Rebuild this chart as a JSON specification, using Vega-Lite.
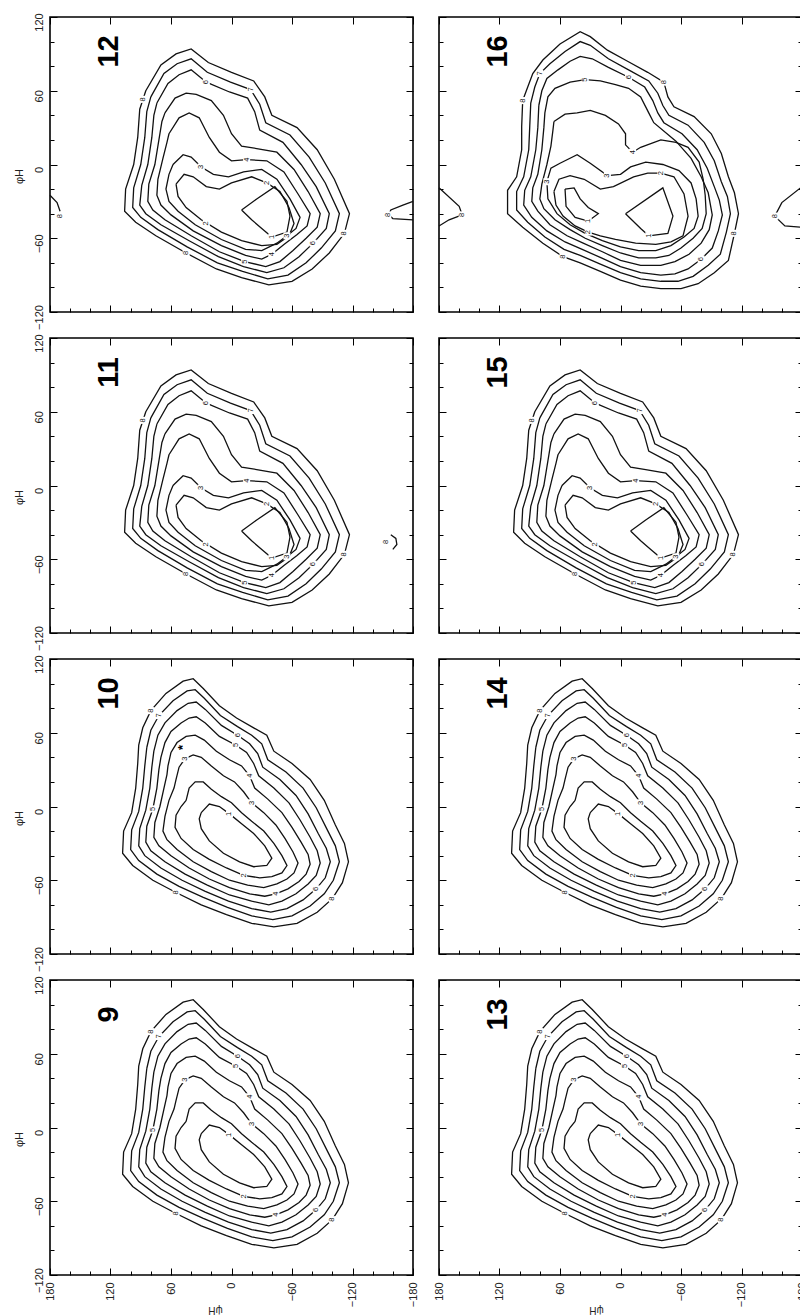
{
"$schema":"https://vega.github.io/schema/vega-lite/v6.json",
"padding":{"left":12,"top":12,"right":2,"bottom":0},
"config":{
 "view":{"stroke":"#000","strokeWidth":1.6},
 "axis":{"domain":false,"grid":false,"ticks":true,"tickColor":"#000","tickWidth":1,"tickSize":{"condition":{"test":"datum.value % 60 === 0","value":-7},"value":-4},"labelFont":"Liberation Sans","labelFontSize":11,"labelColor":"#222","labelAngle":-90,"labelFlush":false,"labelOverlap":false,"titleFont":"Liberation Sans","titleFontSize":11,"titleFontWeight":"normal","titleColor":"#222"},
 "axisBottom":{"labelAlign":"right","labelBaseline":"middle","labelPadding":14,"titleAngle":180,"titleBaseline":"bottom","titleFontSize":10,"titleY":29},
 "axisLeft":{"labelAlign":"center","labelBaseline":"bottom","labelPadding":13,"labelOffset":5,"titlePadding":6}
},
"datasets":{
"p12":[
{"c":8,"x":85,"y":60},{"c":8,"x":70,"y":81},{"c":8,"x":55,"y":90},{"c":8,"x":40,"y":94},{"c":8,"x":23,"y":83},{"c":8,"x":0,"y":75},{"c":8,"x":-22,"y":68},{"c":8,"x":-33,"y":55},{"c":8,"x":-40,"y":40},{"c":8,"x":-65,"y":30},{"c":8,"x":-85,"y":12},{"c":8,"x":-102,"y":-12},{"c":8,"x":-117,"y":-40},{"c":8,"x":-112,"y":-56},{"c":8,"x":-97,"y":-72},{"c":8,"x":-80,"y":-85},{"c":8,"x":-60,"y":-95},{"c":8,"x":-37,"y":-98},{"c":8,"x":-10,"y":-92},{"c":8,"x":15,"y":-85},{"c":8,"x":45,"y":-72},{"c":8,"x":75,"y":-58},{"c":8,"x":95,"y":-47},{"c":8,"x":106,"y":-38},{"c":8,"x":105,"y":-20},{"c":8,"x":97,"y":0},{"c":8,"x":93,"y":22},{"c":8,"x":91,"y":45},{"c":8,"x":85,"y":60},
{"c":7,"x":80,"y":55},{"c":7,"x":67,"y":74},{"c":7,"x":54,"y":82},{"c":7,"x":40,"y":86},{"c":7,"x":24,"y":75},{"c":7,"x":1,"y":67},{"c":7,"x":-19,"y":61},{"c":7,"x":-28,"y":49},{"c":7,"x":-34,"y":34},{"c":7,"x":-58,"y":24},{"c":7,"x":-77,"y":6},{"c":7,"x":-93,"y":-15},{"c":7,"x":-107,"y":-40},{"c":7,"x":-103,"y":-54},{"c":7,"x":-89,"y":-68},{"c":7,"x":-74,"y":-80},{"c":7,"x":-56,"y":-90},{"c":7,"x":-36,"y":-93},{"c":7,"x":-11,"y":-87},{"c":7,"x":14,"y":-80},{"c":7,"x":44,"y":-67},{"c":7,"x":73,"y":-53},{"c":7,"x":90,"y":-43},{"c":7,"x":98,"y":-35},{"c":7,"x":97,"y":-19},{"c":7,"x":90,"y":0},{"c":7,"x":86,"y":22},{"c":7,"x":84,"y":43},{"c":7,"x":80,"y":55},
{"c":6,"x":74,"y":50},{"c":6,"x":63,"y":66},{"c":6,"x":52,"y":73},{"c":6,"x":40,"y":77},{"c":6,"x":25,"y":67},{"c":6,"x":2,"y":59},{"c":6,"x":-16,"y":54},{"c":6,"x":-23,"y":43},{"c":6,"x":-28,"y":28},{"c":6,"x":-51,"y":18},{"c":6,"x":-69,"y":0},{"c":6,"x":-84,"y":-18},{"c":6,"x":-97,"y":-40},{"c":6,"x":-94,"y":-52},{"c":6,"x":-81,"y":-64},{"c":6,"x":-67,"y":-75},{"c":6,"x":-52,"y":-84},{"c":6,"x":-35,"y":-88},{"c":6,"x":-12,"y":-83},{"c":6,"x":13,"y":-75},{"c":6,"x":42,"y":-62},{"c":6,"x":70,"y":-49},{"c":6,"x":85,"y":-40},{"c":6,"x":91,"y":-33},{"c":6,"x":89,"y":-17},{"c":6,"x":83,"y":0},{"c":6,"x":79,"y":22},{"c":6,"x":77,"y":40},{"c":6,"x":74,"y":50},
{"c":5,"x":66,"y":42},{"c":5,"x":56,"y":54},{"c":5,"x":45,"y":58},{"c":5,"x":35,"y":57},{"c":5,"x":20,"y":52},{"c":5,"x":8,"y":40},{"c":5,"x":0,"y":25},{"c":5,"x":-10,"y":15},{"c":5,"x":-25,"y":13},{"c":5,"x":-45,"y":10},{"c":5,"x":-62,"y":-4},{"c":5,"x":-76,"y":-22},{"c":5,"x":-88,"y":-40},{"c":5,"x":-85,"y":-51},{"c":5,"x":-74,"y":-60},{"c":5,"x":-61,"y":-70},{"c":5,"x":-48,"y":-79},{"c":5,"x":-34,"y":-83},{"c":5,"x":-13,"y":-79},{"c":5,"x":12,"y":-71},{"c":5,"x":40,"y":-58},{"c":5,"x":66,"y":-45},{"c":5,"x":78,"y":-37},{"c":5,"x":83,"y":-30},{"c":5,"x":82,"y":-16},{"c":5,"x":76,"y":0},{"c":5,"x":72,"y":20},{"c":5,"x":69,"y":35},{"c":5,"x":66,"y":42},
{"c":4,"x":62,"y":25},{"c":4,"x":52,"y":38},{"c":4,"x":42,"y":42},{"c":4,"x":32,"y":38},{"c":4,"x":22,"y":22},{"c":4,"x":12,"y":10},{"c":4,"x":0,"y":3},{"c":4,"x":-15,"y":4},{"c":4,"x":-35,"y":3},{"c":4,"x":-52,"y":-6},{"c":4,"x":-66,"y":-24},{"c":4,"x":-78,"y":-40},{"c":4,"x":-75,"y":-50},{"c":4,"x":-65,"y":-57},{"c":4,"x":-52,"y":-65},{"c":4,"x":-40,"y":-73},{"c":4,"x":-30,"y":-77},{"c":4,"x":-14,"y":-74},{"c":4,"x":10,"y":-66},{"c":4,"x":38,"y":-54},{"c":4,"x":60,"y":-41},{"c":4,"x":70,"y":-33},{"c":4,"x":74,"y":-25},{"c":4,"x":73,"y":-12},{"c":4,"x":68,"y":5},{"c":4,"x":64,"y":18},{"c":4,"x":62,"y":25},
{"c":3,"x":58,"y":0},{"c":3,"x":48,"y":8},{"c":3,"x":40,"y":6},{"c":3,"x":30,"y":-2},{"c":3,"x":18,"y":-8},{"c":3,"x":3,"y":-10},{"c":3,"x":-12,"y":-6},{"c":3,"x":-30,"y":-4},{"c":3,"x":-45,"y":-12},{"c":3,"x":-58,"y":-28},{"c":3,"x":-68,"y":-43},{"c":3,"x":-64,"y":-52},{"c":3,"x":-55,"y":-58},{"c":3,"x":-45,"y":-64},{"c":3,"x":-30,"y":-70},{"c":3,"x":-14,"y":-69},{"c":3,"x":10,"y":-61},{"c":3,"x":36,"y":-49},{"c":3,"x":53,"y":-38},{"c":3,"x":62,"y":-30},{"c":3,"x":65,"y":-20},{"c":3,"x":62,"y":-8},{"c":3,"x":58,"y":0},
{"c":2,"x":55,"y":-16},{"c":2,"x":47,"y":-8},{"c":2,"x":38,"y":-10},{"c":2,"x":25,"y":-18},{"c":2,"x":12,"y":-20},{"c":2,"x":0,"y":-15},{"c":2,"x":-20,"y":-10},{"c":2,"x":-35,"y":-15},{"c":2,"x":-48,"y":-22},{"c":2,"x":-57,"y":-35},{"c":2,"x":-62,"y":-48},{"c":2,"x":-57,"y":-58},{"c":2,"x":-45,"y":-65},{"c":2,"x":-30,"y":-66},{"c":2,"x":-10,"y":-62},{"c":2,"x":10,"y":-55},{"c":2,"x":30,"y":-45},{"c":2,"x":45,"y":-35},{"c":2,"x":53,"y":-26},{"c":2,"x":55,"y":-16},
{"c":1,"x":-10,"y":-37},{"c":1,"x":-25,"y":-28},{"c":1,"x":-43,"y":-18},{"c":1,"x":-55,"y":-30},{"c":1,"x":-58,"y":-42},{"c":1,"x":-55,"y":-55},{"c":1,"x":-40,"y":-59},{"c":1,"x":-30,"y":-52},{"c":1,"x":-20,"y":-45},{"c":1,"x":-10,"y":-37},
{"c":"8a","x":180,"y":-25},{"c":"8a","x":173,"y":-31},{"c":"8a","x":170,"y":-38},
{"c":"8b","x":-180,"y":-30},{"c":"8b","x":-170,"y":-33},{"c":"8b","x":-158,"y":-37},{"c":"8b","x":-156,"y":-41},{"c":"8b","x":-160,"y":-44},{"c":"8b","x":-180,"y":-45}
],
"l12":[
{"t":"8","x":88,"y":53},{"t":"8","x":-112,"y":-56},{"t":"8","x":45,"y":-72},{"t":"7","x":-19,"y":61},{"t":"6","x":25,"y":67},{"t":"6","x":-81,"y":-64},{"t":"5","x":-13,"y":-79},{"t":"4","x":-15,"y":4},{"t":"4","x":-40,"y":-73},{"t":"3","x":30,"y":-2},{"t":"3","x":-55,"y":-58},{"t":"2","x":-35,"y":-15},{"t":"2","x":25,"y":-48},{"t":"1","x":-40,"y":-59},{"t":"8","x":170,"y":-42},{"t":"8","x":-155,"y":-41}
],
"f11":[
{"c":"8c","x":-158,"y":-40},{"c":"8c","x":-163,"y":-43},{"c":"8c","x":-164,"y":-48},{"c":"8c","x":-160,"y":-52}
],
"l11":[
{"t":"8","x":88,"y":53},{"t":"8","x":-112,"y":-56},{"t":"8","x":45,"y":-72},{"t":"7","x":-19,"y":61},{"t":"6","x":25,"y":67},{"t":"6","x":-81,"y":-64},{"t":"5","x":-13,"y":-79},{"t":"4","x":-15,"y":4},{"t":"4","x":-40,"y":-73},{"t":"3","x":30,"y":-2},{"t":"3","x":-55,"y":-58},{"t":"2","x":-35,"y":-15},{"t":"2","x":25,"y":-48},{"t":"1","x":-40,"y":-59},{"t":"8","x":-153,"y":-46}
],
"p16":[
{"c":8,"x":97,"y":52},{"c":8,"x":92,"y":63},{"c":8,"x":87,"y":74},{"c":8,"x":77,"y":85},{"c":8,"x":60,"y":98},{"c":8,"x":40,"y":108},{"c":8,"x":30,"y":104},{"c":8,"x":13,"y":93},{"c":8,"x":-7,"y":84},{"c":8,"x":-27,"y":75},{"c":8,"x":-43,"y":67},{"c":8,"x":-47,"y":55},{"c":8,"x":-53,"y":47},{"c":8,"x":-73,"y":39},{"c":8,"x":-90,"y":25},{"c":8,"x":-100,"y":9},{"c":8,"x":-107,"y":-10},{"c":8,"x":-113,"y":-23},{"c":8,"x":-117,"y":-40},{"c":8,"x":-113,"y":-56},{"c":8,"x":-107,"y":-78},{"c":8,"x":-93,"y":-88},{"c":8,"x":-77,"y":-97},{"c":8,"x":-60,"y":-101},{"c":8,"x":-40,"y":-101},{"c":8,"x":-20,"y":-99},{"c":8,"x":0,"y":-94},{"c":8,"x":20,"y":-87},{"c":8,"x":40,"y":-80},{"c":8,"x":57,"y":-75},{"c":8,"x":77,"y":-64},{"c":8,"x":97,"y":-51},{"c":8,"x":112,"y":-40},{"c":8,"x":112,"y":-21},{"c":8,"x":103,"y":-10},{"c":8,"x":98,"y":12},{"c":8,"x":98,"y":31},{"c":8,"x":97,"y":52},
{"c":7,"x":89,"y":50},{"c":7,"x":85,"y":63},{"c":7,"x":80,"y":74},{"c":7,"x":70,"y":82},{"c":7,"x":55,"y":92},{"c":7,"x":40,"y":100},{"c":7,"x":30,"y":97},{"c":7,"x":12,"y":86},{"c":7,"x":-8,"y":77},{"c":7,"x":-28,"y":68},{"c":7,"x":-37,"y":58},{"c":7,"x":-42,"y":48},{"c":7,"x":-48,"y":40},{"c":7,"x":-67,"y":32},{"c":7,"x":-83,"y":18},{"c":7,"x":-93,"y":3},{"c":7,"x":-100,"y":-14},{"c":7,"x":-106,"y":-26},{"c":7,"x":-109,"y":-40},{"c":7,"x":-105,"y":-55},{"c":7,"x":-99,"y":-73},{"c":7,"x":-87,"y":-82},{"c":7,"x":-72,"y":-91},{"c":7,"x":-57,"y":-95},{"c":7,"x":-40,"y":-95},{"c":7,"x":-20,"y":-93},{"c":7,"x":0,"y":-88},{"c":7,"x":20,"y":-81},{"c":7,"x":40,"y":-74},{"c":7,"x":56,"y":-69},{"c":7,"x":75,"y":-59},{"c":7,"x":92,"y":-47},{"c":7,"x":103,"y":-37},{"c":7,"x":103,"y":-22},{"c":7,"x":96,"y":-10},{"c":7,"x":91,"y":12},{"c":7,"x":90,"y":31},{"c":7,"x":89,"y":50},
{"c":6,"x":81,"y":48},{"c":6,"x":78,"y":60},{"c":6,"x":73,"y":70},{"c":6,"x":62,"y":77},{"c":6,"x":50,"y":84},{"c":6,"x":40,"y":88},{"c":6,"x":28,"y":86},{"c":6,"x":12,"y":79},{"c":6,"x":-8,"y":71},{"c":6,"x":-24,"y":63},{"c":6,"x":-32,"y":52},{"c":6,"x":-37,"y":42},{"c":6,"x":-43,"y":34},{"c":6,"x":-61,"y":25},{"c":6,"x":-76,"y":12},{"c":6,"x":-86,"y":-3},{"c":6,"x":-93,"y":-18},{"c":6,"x":-98,"y":-29},{"c":6,"x":-101,"y":-41},{"c":6,"x":-97,"y":-54},{"c":6,"x":-91,"y":-68},{"c":6,"x":-80,"y":-77},{"c":6,"x":-67,"y":-85},{"c":6,"x":-54,"y":-89},{"c":6,"x":-40,"y":-90},{"c":6,"x":-20,"y":-88},{"c":6,"x":0,"y":-83},{"c":6,"x":19,"y":-76},{"c":6,"x":38,"y":-69},{"c":6,"x":55,"y":-63},{"c":6,"x":73,"y":-54},{"c":6,"x":88,"y":-43},{"c":6,"x":96,"y":-33},{"c":6,"x":95,"y":-21},{"c":6,"x":89,"y":-10},{"c":6,"x":84,"y":12},{"c":6,"x":82,"y":30},{"c":6,"x":81,"y":48},
{"c":5,"x":75,"y":42},{"c":5,"x":72,"y":55},{"c":5,"x":65,"y":62},{"c":5,"x":50,"y":67},{"c":5,"x":35,"y":69},{"c":5,"x":20,"y":68},{"c":5,"x":5,"y":65},{"c":5,"x":-8,"y":62},{"c":5,"x":-20,"y":55},{"c":5,"x":-28,"y":42},{"c":5,"x":-33,"y":34},{"c":5,"x":-55,"y":19},{"c":5,"x":-70,"y":5},{"c":5,"x":-80,"y":-10},{"c":5,"x":-87,"y":-23},{"c":5,"x":-91,"y":-41},{"c":5,"x":-88,"y":-53},{"c":5,"x":-80,"y":-64},{"c":5,"x":-68,"y":-73},{"c":5,"x":-54,"y":-79},{"c":5,"x":-40,"y":-82},{"c":5,"x":-20,"y":-82},{"c":5,"x":0,"y":-78},{"c":5,"x":18,"y":-71},{"c":5,"x":37,"y":-64},{"c":5,"x":53,"y":-58},{"c":5,"x":70,"y":-49},{"c":5,"x":82,"y":-38},{"c":5,"x":88,"y":-30},{"c":5,"x":87,"y":-19},{"c":5,"x":82,"y":-8},{"c":5,"x":78,"y":12},{"c":5,"x":76,"y":30},{"c":5,"x":75,"y":42},
{"c":4,"x":66,"y":35},{"c":4,"x":55,"y":41},{"c":4,"x":43,"y":42},{"c":4,"x":30,"y":44},{"c":4,"x":15,"y":40},{"c":4,"x":2,"y":33},{"c":4,"x":-5,"y":25},{"c":4,"x":-5,"y":16},{"c":4,"x":-12,"y":10},{"c":4,"x":-20,"y":14},{"c":4,"x":-40,"y":20},{"c":4,"x":-55,"y":18},{"c":4,"x":-67,"y":14},{"c":4,"x":-78,"y":2},{"c":4,"x":-82,"y":-12},{"c":4,"x":-84,"y":-25},{"c":4,"x":-85,"y":-40},{"c":4,"x":-81,"y":-52},{"c":4,"x":-72,"y":-60},{"c":4,"x":-60,"y":-68},{"c":4,"x":-48,"y":-74},{"c":4,"x":-35,"y":-76},{"c":4,"x":-18,"y":-76},{"c":4,"x":0,"y":-72},{"c":4,"x":18,"y":-66},{"c":4,"x":35,"y":-60},{"c":4,"x":50,"y":-53},{"c":4,"x":65,"y":-45},{"c":4,"x":76,"y":-36},{"c":4,"x":80,"y":-28},{"c":4,"x":78,"y":-16},{"c":4,"x":73,"y":0},{"c":4,"x":69,"y":15},{"c":4,"x":67,"y":28},{"c":4,"x":66,"y":35},
{"c":3,"x":73,"y":-14},{"c":3,"x":69,"y":-3},{"c":3,"x":60,"y":1},{"c":3,"x":43,"y":8},{"c":3,"x":30,"y":1},{"c":3,"x":13,"y":-9},{"c":3,"x":0,"y":-8},{"c":3,"x":-10,"y":-2},{"c":3,"x":-25,"y":2},{"c":3,"x":-42,"y":0},{"c":3,"x":-58,"y":-5},{"c":3,"x":-70,"y":-15},{"c":3,"x":-75,"y":-28},{"c":3,"x":-77,"y":-42},{"c":3,"x":-73,"y":-52},{"c":3,"x":-63,"y":-59},{"c":3,"x":-50,"y":-66},{"c":3,"x":-35,"y":-70},{"c":3,"x":-18,"y":-70},{"c":3,"x":0,"y":-67},{"c":3,"x":18,"y":-62},{"c":3,"x":35,"y":-56},{"c":3,"x":50,"y":-49},{"c":3,"x":63,"y":-40},{"c":3,"x":72,"y":-28},{"c":3,"x":73,"y":-14},
{"c":2,"x":66,"y":-22},{"c":2,"x":61,"y":-12},{"c":2,"x":50,"y":-9},{"c":2,"x":36,"y":-12},{"c":2,"x":20,"y":-20},{"c":2,"x":7,"y":-18},{"c":2,"x":-13,"y":-10},{"c":2,"x":-27,"y":-7},{"c":2,"x":-40,"y":-7},{"c":2,"x":-53,"y":-10},{"c":2,"x":-63,"y":-24},{"c":2,"x":-67,"y":-42},{"c":2,"x":-62,"y":-58},{"c":2,"x":-50,"y":-63},{"c":2,"x":-35,"y":-65},{"c":2,"x":-15,"y":-64},{"c":2,"x":5,"y":-61},{"c":2,"x":20,"y":-58},{"c":2,"x":32,"y":-55},{"c":2,"x":45,"y":-50},{"c":2,"x":57,"y":-42},{"c":2,"x":64,"y":-33},{"c":2,"x":66,"y":-22},
{"c":"1a","x":-5,"y":-40},{"c":"1a","x":-42,"y":-19},{"c":"1a","x":-52,"y":-42},{"c":"1a","x":-47,"y":-56},{"c":"1a","x":-28,"y":-58},{"c":"1a","x":-20,"y":-52},{"c":"1a","x":-5,"y":-40},
{"c":"1b","x":55,"y":-20},{"c":"1b","x":46,"y":-19},{"c":"1b","x":40,"y":-28},{"c":"1b","x":32,"y":-35},{"c":"1b","x":22,"y":-40},{"c":"1b","x":32,"y":-46},{"c":"1b","x":45,"y":-43},{"c":"1b","x":54,"y":-34},{"c":"1b","x":55,"y":-20},
{"c":"8a","x":180,"y":-19},{"c":"8a","x":160,"y":-34},{"c":"8a","x":157,"y":-41},{"c":"8a","x":170,"y":-45},{"c":"8a","x":180,"y":-50},
{"c":"8b","x":-180,"y":-18},{"c":"8b","x":-160,"y":-31},{"c":"8b","x":-153,"y":-42},{"c":"8b","x":-163,"y":-50},{"c":"8b","x":-180,"y":-51}
],
"l16":[
{"t":"8","x":97,"y":52},{"t":"8","x":-43,"y":67},{"t":"8","x":-113,"y":-56},{"t":"8","x":57,"y":-75},{"t":"7","x":80,"y":74},{"t":"6","x":-8,"y":71},{"t":"5","x":35,"y":69},{"t":"4","x":-12,"y":10},{"t":"3","x":13,"y":-9},{"t":"3","x":73,"y":-14},{"t":"2","x":-40,"y":-7},{"t":"2","x":32,"y":-55},{"t":"1","x":-28,"y":-58},{"t":"1","x":32,"y":-46},{"t":"6","x":-80,"y":-77},{"t":"8","x":157,"y":-41},{"t":"8","x":-153,"y":-42}
],
"pS":[
{"c":8,"x":92,"y":50},{"c":8,"x":88,"y":64},{"c":8,"x":80,"y":78},{"c":8,"x":65,"y":92},{"c":8,"x":48,"y":102},{"c":8,"x":38,"y":104},{"c":8,"x":28,"y":96},{"c":8,"x":12,"y":82},{"c":8,"x":-5,"y":72},{"c":8,"x":-22,"y":64},{"c":8,"x":-35,"y":58},{"c":8,"x":-42,"y":45},{"c":8,"x":-60,"y":35},{"c":8,"x":-78,"y":22},{"c":8,"x":-92,"y":5},{"c":8,"x":-103,"y":-15},{"c":8,"x":-112,"y":-30},{"c":8,"x":-116,"y":-45},{"c":8,"x":-110,"y":-62},{"c":8,"x":-100,"y":-75},{"c":8,"x":-85,"y":-86},{"c":8,"x":-65,"y":-95},{"c":8,"x":-42,"y":-98},{"c":8,"x":-20,"y":-95},{"c":8,"x":5,"y":-88},{"c":8,"x":30,"y":-80},{"c":8,"x":55,"y":-70},{"c":8,"x":78,"y":-60},{"c":8,"x":98,"y":-48},{"c":8,"x":108,"y":-38},{"c":8,"x":107,"y":-20},{"c":8,"x":99,"y":-5},{"c":8,"x":95,"y":15},{"c":8,"x":93,"y":35},{"c":8,"x":92,"y":50},
{"c":7,"x":84,"y":48},{"c":7,"x":80,"y":62},{"c":7,"x":72,"y":74},{"c":7,"x":58,"y":86},{"c":7,"x":44,"y":94},{"c":7,"x":36,"y":95},{"c":7,"x":27,"y":88},{"c":7,"x":11,"y":74},{"c":7,"x":-6,"y":65},{"c":7,"x":-20,"y":58},{"c":7,"x":-30,"y":51},{"c":7,"x":-36,"y":38},{"c":7,"x":-54,"y":28},{"c":7,"x":-71,"y":15},{"c":7,"x":-84,"y":-1},{"c":7,"x":-95,"y":-19},{"c":7,"x":-103,"y":-32},{"c":7,"x":-107,"y":-45},{"c":7,"x":-101,"y":-60},{"c":7,"x":-92,"y":-71},{"c":7,"x":-78,"y":-81},{"c":7,"x":-60,"y":-89},{"c":7,"x":-41,"y":-92},{"c":7,"x":-20,"y":-89},{"c":7,"x":4,"y":-82},{"c":7,"x":28,"y":-74},{"c":7,"x":52,"y":-65},{"c":7,"x":74,"y":-55},{"c":7,"x":92,"y":-44},{"c":7,"x":100,"y":-35},{"c":7,"x":99,"y":-19},{"c":7,"x":92,"y":-4},{"c":7,"x":88,"y":15},{"c":7,"x":86,"y":33},{"c":7,"x":84,"y":48},
{"c":6,"x":77,"y":45},{"c":6,"x":73,"y":58},{"c":6,"x":66,"y":68},{"c":6,"x":54,"y":78},{"c":6,"x":43,"y":84},{"c":6,"x":35,"y":85},{"c":6,"x":26,"y":79},{"c":6,"x":10,"y":66},{"c":6,"x":-6,"y":58},{"c":6,"x":-18,"y":51},{"c":6,"x":-26,"y":43},{"c":6,"x":-31,"y":32},{"c":6,"x":-48,"y":22},{"c":6,"x":-64,"y":9},{"c":6,"x":-76,"y":-6},{"c":6,"x":-86,"y":-22},{"c":6,"x":-94,"y":-34},{"c":6,"x":-98,"y":-45},{"c":6,"x":-93,"y":-58},{"c":6,"x":-84,"y":-67},{"c":6,"x":-71,"y":-76},{"c":6,"x":-55,"y":-83},{"c":6,"x":-39,"y":-86},{"c":6,"x":-20,"y":-83},{"c":6,"x":3,"y":-77},{"c":6,"x":26,"y":-69},{"c":6,"x":49,"y":-60},{"c":6,"x":70,"y":-50},{"c":6,"x":86,"y":-40},{"c":6,"x":92,"y":-32},{"c":6,"x":91,"y":-18},{"c":6,"x":85,"y":-3},{"c":6,"x":81,"y":15},{"c":6,"x":79,"y":32},{"c":6,"x":77,"y":45},
{"c":5,"x":70,"y":40},{"c":5,"x":66,"y":52},{"c":5,"x":60,"y":61},{"c":5,"x":50,"y":68},{"c":5,"x":42,"y":72},{"c":5,"x":35,"y":73},{"c":5,"x":26,"y":68},{"c":5,"x":12,"y":57},{"c":5,"x":-4,"y":50},{"c":5,"x":-15,"y":44},{"c":5,"x":-22,"y":35},{"c":5,"x":-27,"y":25},{"c":5,"x":-42,"y":15},{"c":5,"x":-57,"y":3},{"c":5,"x":-68,"y":-11},{"c":5,"x":-78,"y":-25},{"c":5,"x":-85,"y":-36},{"c":5,"x":-88,"y":-46},{"c":5,"x":-84,"y":-56},{"c":5,"x":-76,"y":-63},{"c":5,"x":-64,"y":-71},{"c":5,"x":-50,"y":-77},{"c":5,"x":-37,"y":-80},{"c":5,"x":-20,"y":-77},{"c":5,"x":2,"y":-72},{"c":5,"x":24,"y":-64},{"c":5,"x":46,"y":-55},{"c":5,"x":66,"y":-45},{"c":5,"x":80,"y":-36},{"c":5,"x":85,"y":-29},{"c":5,"x":84,"y":-16},{"c":5,"x":78,"y":-2},{"c":5,"x":74,"y":15},{"c":5,"x":72,"y":30},{"c":5,"x":70,"y":40},
{"c":4,"x":63,"y":33},{"c":4,"x":60,"y":44},{"c":4,"x":54,"y":52},{"c":4,"x":45,"y":57},{"c":4,"x":36,"y":58},{"c":4,"x":27,"y":54},{"c":4,"x":15,"y":45},{"c":4,"x":2,"y":38},{"c":4,"x":-10,"y":33},{"c":4,"x":-18,"y":25},{"c":4,"x":-23,"y":15},{"c":4,"x":-36,"y":6},{"c":4,"x":-50,"y":-5},{"c":4,"x":-60,"y":-17},{"c":4,"x":-69,"y":-29},{"c":4,"x":-76,"y":-39},{"c":4,"x":-78,"y":-47},{"c":4,"x":-74,"y":-55},{"c":4,"x":-67,"y":-61},{"c":4,"x":-56,"y":-67},{"c":4,"x":-44,"y":-71},{"c":4,"x":-33,"y":-73},{"c":4,"x":-18,"y":-71},{"c":4,"x":2,"y":-66},{"c":4,"x":22,"y":-59},{"c":4,"x":42,"y":-50},{"c":4,"x":60,"y":-40},{"c":4,"x":72,"y":-32},{"c":4,"x":77,"y":-25},{"c":4,"x":76,"y":-13},{"c":4,"x":71,"y":0},{"c":4,"x":67,"y":15},{"c":4,"x":64,"y":26},{"c":4,"x":63,"y":33},
{"c":3,"x":55,"y":22},{"c":3,"x":52,"y":32},{"c":3,"x":46,"y":39},{"c":3,"x":38,"y":42},{"c":3,"x":30,"y":40},{"c":3,"x":20,"y":33},{"c":3,"x":8,"y":25},{"c":3,"x":-3,"y":20},{"c":3,"x":-12,"y":12},{"c":3,"x":-20,"y":3},{"c":3,"x":-32,"y":-5},{"c":3,"x":-44,"y":-15},{"c":3,"x":-53,"y":-26},{"c":3,"x":-61,"y":-37},{"c":3,"x":-66,"y":-46},{"c":3,"x":-62,"y":-54},{"c":3,"x":-55,"y":-59},{"c":3,"x":-45,"y":-63},{"c":3,"x":-32,"y":-66},{"c":3,"x":-16,"y":-64},{"c":3,"x":2,"y":-60},{"c":3,"x":20,"y":-53},{"c":3,"x":38,"y":-45},{"c":3,"x":54,"y":-35},{"c":3,"x":64,"y":-27},{"c":3,"x":68,"y":-20},{"c":3,"x":66,"y":-8},{"c":3,"x":62,"y":5},{"c":3,"x":57,"y":15},{"c":3,"x":55,"y":22},
{"c":2,"x":45,"y":5},{"c":2,"x":42,"y":15},{"c":2,"x":36,"y":20},{"c":2,"x":28,"y":20},{"c":2,"x":20,"y":14},{"c":2,"x":10,"y":8},{"c":2,"x":0,"y":3},{"c":2,"x":-10,"y":-5},{"c":2,"x":-20,"y":-12},{"c":2,"x":-32,"y":-20},{"c":2,"x":-42,"y":-30},{"c":2,"x":-50,"y":-40},{"c":2,"x":-55,"y":-48},{"c":2,"x":-50,"y":-54},{"c":2,"x":-40,"y":-57},{"c":2,"x":-28,"y":-58},{"c":2,"x":-12,"y":-56},{"c":2,"x":5,"y":-50},{"c":2,"x":22,"y":-43},{"c":2,"x":38,"y":-35},{"c":2,"x":50,"y":-26},{"c":2,"x":56,"y":-17},{"c":2,"x":55,"y":-7},{"c":2,"x":50,"y":0},{"c":2,"x":45,"y":5},
{"c":1,"x":30,"y":-5},{"c":1,"x":22,"y":2},{"c":1,"x":12,"y":0},{"c":1,"x":2,"y":-6},{"c":1,"x":-10,"y":-14},{"c":1,"x":-22,"y":-22},{"c":1,"x":-33,"y":-32},{"c":1,"x":-40,"y":-42},{"c":1,"x":-35,"y":-48},{"c":1,"x":-22,"y":-49},{"c":1,"x":-8,"y":-45},{"c":1,"x":8,"y":-38},{"c":1,"x":22,"y":-28},{"c":1,"x":30,"y":-18},{"c":1,"x":32,"y":-10},{"c":1,"x":30,"y":-5}
],
"lS":[
{"t":"8","x":80,"y":78},{"t":"7","x":72,"y":74},{"t":"6","x":-6,"y":58},{"t":"5","x":-4,"y":50},{"t":"4","x":-18,"y":25},{"t":"3","x":-20,"y":3},{"t":"2","x":-12,"y":-56},{"t":"1","x":2,"y":-6},{"t":"6","x":-84,"y":-67},{"t":"4","x":-44,"y":-71},{"t":"8","x":-100,"y":-75},{"t":"5","x":78,"y":-2},{"t":"3","x":46,"y":39},{"t":"8","x":55,"y":-70}
]
},
"columns":2,
"spacing":26,
"bounds":"flush",
"concat":[
{"width":363,"height":295,"data":{"name":"l12"},"layer":[
 {"data":{"name":"p12"},"mark":{"type":"line","color":"#111","strokeWidth":1.3},"encoding":{"x":{"field":"x","type":"quantitative","scale":{"domain":[-180,180],"reverse":true,"nice":false},"axis":{"orient":"bottom","values":[-180,-160,-140,-120,-100,-80,-60,-40,-20,0,20,40,60,80,100,120,140,160,180],"labels":false,"title":null}},"y":{"field":"y","type":"quantitative","scale":{"domain":[-120,120],"nice":false},"axis":{"orient":"left","values":[-120,-100,-80,-60,-40,-20,0,20,40,60,80,100,120],"labelExpr":"datum.value % 60 === 0 ? datum.label : ''","title":"φH","titleY":159}},"detail":{"field":"c"},"order":{"value":null}}},
 {"mark":{"type":"square","color":"white","opacity":1,"size":50},"encoding":{"x":{"field":"x","type":"quantitative","scale":{"domain":[-180,180],"reverse":true,"nice":false},"axis":{"orient":"top","values":[-180,-120,-60,0,60,120,180],"labels":false,"title":null}},"y":{"field":"y","type":"quantitative","scale":{"domain":[-120,120],"nice":false},"axis":{"orient":"right","values":[-120,-100,-80,-60,-40,-20,0,20,40,60,80,100,120],"labels":false,"title":null}}}},
 {"mark":{"type":"text","angle":-90,"fontSize":7.5,"font":"Liberation Sans","color":"#111"},"encoding":{"x":{"field":"x","type":"quantitative","scale":{"domain":[-180,180],"reverse":true,"nice":false},"axis":null},"y":{"field":"y","type":"quantitative","scale":{"domain":[-120,120],"nice":false},"axis":null},"text":{"field":"t"}}},
 {"data":{"values":[{"t":"12","x":121,"y":92}]},"mark":{"type":"text","angle":-90,"fontSize":29,"fontWeight":"bold","font":"Liberation Sans","color":"#000"},"encoding":{"x":{"field":"x","type":"quantitative","scale":{"domain":[-180,180],"reverse":true,"nice":false},"axis":null},"y":{"field":"y","type":"quantitative","scale":{"domain":[-120,120],"nice":false},"axis":null},"text":{"field":"t"}}}
],"resolve":{"axis":{"x":"independent","y":"independent"}}},
{"width":363,"height":295,"data":{"name":"l16"},"layer":[
 {"data":{"name":"p16"},"mark":{"type":"line","color":"#111","strokeWidth":1.3},"encoding":{"x":{"field":"x","type":"quantitative","scale":{"domain":[-180,180],"reverse":true,"nice":false},"axis":{"orient":"bottom","values":[-180,-160,-140,-120,-100,-80,-60,-40,-20,0,20,40,60,80,100,120,140,160,180],"labels":false,"title":null}},"y":{"field":"y","type":"quantitative","scale":{"domain":[-120,120],"nice":false},"axis":{"orient":"left","values":[-120,-100,-80,-60,-40,-20,0,20,40,60,80,100,120],"labels":false,"title":null}},"detail":{"field":"c"},"order":{"value":null}}},
 {"mark":{"type":"square","color":"white","opacity":1,"size":50},"encoding":{"x":{"field":"x","type":"quantitative","scale":{"domain":[-180,180],"reverse":true,"nice":false},"axis":{"orient":"top","values":[-180,-120,-60,0,60,120,180],"labels":false,"title":null}},"y":{"field":"y","type":"quantitative","scale":{"domain":[-120,120],"nice":false},"axis":{"orient":"right","values":[-120,-100,-80,-60,-40,-20,0,20,40,60,80,100,120],"labels":false,"title":null}}}},
 {"mark":{"type":"text","angle":-90,"fontSize":7.5,"font":"Liberation Sans","color":"#111"},"encoding":{"x":{"field":"x","type":"quantitative","scale":{"domain":[-180,180],"reverse":true,"nice":false},"axis":null},"y":{"field":"y","type":"quantitative","scale":{"domain":[-120,120],"nice":false},"axis":null},"text":{"field":"t"}}},
 {"data":{"values":[{"t":"16","x":121,"y":92}]},"mark":{"type":"text","angle":-90,"fontSize":29,"fontWeight":"bold","font":"Liberation Sans","color":"#000"},"encoding":{"x":{"field":"x","type":"quantitative","scale":{"domain":[-180,180],"reverse":true,"nice":false},"axis":null},"y":{"field":"y","type":"quantitative","scale":{"domain":[-120,120],"nice":false},"axis":null},"text":{"field":"t"}}}
],"resolve":{"axis":{"x":"independent","y":"independent"}}},
{"width":363,"height":295,"data":{"name":"l11"},"layer":[
 {"data":{"name":"p12"},"transform":[{"filter":"datum.c !== '8a' && datum.c !== '8b'"}],"mark":{"type":"line","color":"#111","strokeWidth":1.3},"encoding":{"x":{"field":"x","type":"quantitative","scale":{"domain":[-180,180],"reverse":true,"nice":false},"axis":{"orient":"bottom","values":[-180,-160,-140,-120,-100,-80,-60,-40,-20,0,20,40,60,80,100,120,140,160,180],"labels":false,"title":null}},"y":{"field":"y","type":"quantitative","scale":{"domain":[-120,120],"nice":false},"axis":{"orient":"left","values":[-120,-100,-80,-60,-40,-20,0,20,40,60,80,100,120],"labelExpr":"datum.value % 60 === 0 ? datum.label : ''","title":"φH","titleY":159}},"detail":{"field":"c"},"order":{"value":null}}},
 {"data":{"name":"f11"},"mark":{"type":"line","color":"#111","strokeWidth":1.3},"encoding":{"x":{"field":"x","type":"quantitative","scale":{"domain":[-180,180],"reverse":true,"nice":false},"axis":null},"y":{"field":"y","type":"quantitative","scale":{"domain":[-120,120],"nice":false},"axis":null},"detail":{"field":"c"},"order":{"value":null}}},
 {"mark":{"type":"square","color":"white","opacity":1,"size":50},"encoding":{"x":{"field":"x","type":"quantitative","scale":{"domain":[-180,180],"reverse":true,"nice":false},"axis":{"orient":"top","values":[-180,-120,-60,0,60,120,180],"labels":false,"title":null}},"y":{"field":"y","type":"quantitative","scale":{"domain":[-120,120],"nice":false},"axis":{"orient":"right","values":[-120,-100,-80,-60,-40,-20,0,20,40,60,80,100,120],"labels":false,"title":null}}}},
 {"mark":{"type":"text","angle":-90,"fontSize":7.5,"font":"Liberation Sans","color":"#111"},"encoding":{"x":{"field":"x","type":"quantitative","scale":{"domain":[-180,180],"reverse":true,"nice":false},"axis":null},"y":{"field":"y","type":"quantitative","scale":{"domain":[-120,120],"nice":false},"axis":null},"text":{"field":"t"}}},
 {"data":{"values":[{"t":"11","x":121,"y":92}]},"mark":{"type":"text","angle":-90,"fontSize":29,"fontWeight":"bold","font":"Liberation Sans","color":"#000"},"encoding":{"x":{"field":"x","type":"quantitative","scale":{"domain":[-180,180],"reverse":true,"nice":false},"axis":null},"y":{"field":"y","type":"quantitative","scale":{"domain":[-120,120],"nice":false},"axis":null},"text":{"field":"t"}}}
],"resolve":{"axis":{"x":"independent","y":"independent"}}},
{"width":363,"height":295,"data":{"name":"l12"},"transform":[{"filter":"datum.x < 150 && datum.x > -150"}],"layer":[
 {"data":{"name":"p12"},"transform":[{"filter":"datum.c !== '8a' && datum.c !== '8b'"}],"mark":{"type":"line","color":"#111","strokeWidth":1.3},"encoding":{"x":{"field":"x","type":"quantitative","scale":{"domain":[-180,180],"reverse":true,"nice":false},"axis":{"orient":"bottom","values":[-180,-160,-140,-120,-100,-80,-60,-40,-20,0,20,40,60,80,100,120,140,160,180],"labels":false,"title":null}},"y":{"field":"y","type":"quantitative","scale":{"domain":[-120,120],"nice":false},"axis":{"orient":"left","values":[-120,-100,-80,-60,-40,-20,0,20,40,60,80,100,120],"labels":false,"title":null}},"detail":{"field":"c"},"order":{"value":null}}},
 {"mark":{"type":"square","color":"white","opacity":1,"size":50},"encoding":{"x":{"field":"x","type":"quantitative","scale":{"domain":[-180,180],"reverse":true,"nice":false},"axis":{"orient":"top","values":[-180,-120,-60,0,60,120,180],"labels":false,"title":null}},"y":{"field":"y","type":"quantitative","scale":{"domain":[-120,120],"nice":false},"axis":{"orient":"right","values":[-120,-100,-80,-60,-40,-20,0,20,40,60,80,100,120],"labels":false,"title":null}}}},
 {"mark":{"type":"text","angle":-90,"fontSize":7.5,"font":"Liberation Sans","color":"#111"},"encoding":{"x":{"field":"x","type":"quantitative","scale":{"domain":[-180,180],"reverse":true,"nice":false},"axis":null},"y":{"field":"y","type":"quantitative","scale":{"domain":[-120,120],"nice":false},"axis":null},"text":{"field":"t"}}},
 {"data":{"values":[{"t":"15","x":121,"y":92}]},"mark":{"type":"text","angle":-90,"fontSize":29,"fontWeight":"bold","font":"Liberation Sans","color":"#000"},"encoding":{"x":{"field":"x","type":"quantitative","scale":{"domain":[-180,180],"reverse":true,"nice":false},"axis":null},"y":{"field":"y","type":"quantitative","scale":{"domain":[-120,120],"nice":false},"axis":null},"text":{"field":"t"}}}
],"resolve":{"axis":{"x":"independent","y":"independent"}}},
{"width":363,"height":295,"data":{"name":"lS"},"layer":[
 {"data":{"name":"pS"},"mark":{"type":"line","color":"#111","strokeWidth":1.3},"encoding":{"x":{"field":"x","type":"quantitative","scale":{"domain":[-180,180],"reverse":true,"nice":false},"axis":{"orient":"bottom","values":[-180,-160,-140,-120,-100,-80,-60,-40,-20,0,20,40,60,80,100,120,140,160,180],"labels":false,"title":null}},"y":{"field":"y","type":"quantitative","scale":{"domain":[-120,120],"nice":false},"axis":{"orient":"left","values":[-120,-100,-80,-60,-40,-20,0,20,40,60,80,100,120],"labelExpr":"datum.value % 60 === 0 ? datum.label : ''","title":"φH","titleY":159}},"detail":{"field":"c"},"order":{"value":null}}},
 {"mark":{"type":"square","color":"white","opacity":1,"size":50},"encoding":{"x":{"field":"x","type":"quantitative","scale":{"domain":[-180,180],"reverse":true,"nice":false},"axis":{"orient":"top","values":[-180,-120,-60,0,60,120,180],"labels":false,"title":null}},"y":{"field":"y","type":"quantitative","scale":{"domain":[-120,120],"nice":false},"axis":{"orient":"right","values":[-120,-100,-80,-60,-40,-20,0,20,40,60,80,100,120],"labels":false,"title":null}}}},
 {"mark":{"type":"text","angle":-90,"fontSize":7.5,"font":"Liberation Sans","color":"#111"},"encoding":{"x":{"field":"x","type":"quantitative","scale":{"domain":[-180,180],"reverse":true,"nice":false},"axis":null},"y":{"field":"y","type":"quantitative","scale":{"domain":[-120,120],"nice":false},"axis":null},"text":{"field":"t"}}},
 {"data":{"values":[{"t":"10","x":121,"y":92},{"t":"*","x":48,"y":48}]},"mark":{"type":"text","angle":-90,"fontSize":29,"fontWeight":"bold","font":"Liberation Sans","color":"#000"},"encoding":{"x":{"field":"x","type":"quantitative","scale":{"domain":[-180,180],"reverse":true,"nice":false},"axis":null},"y":{"field":"y","type":"quantitative","scale":{"domain":[-120,120],"nice":false},"axis":null},"text":{"field":"t"},"size":{"condition":{"test":"datum.t === '*'","value":13},"value":29}}}
],"resolve":{"axis":{"x":"independent","y":"independent"}}},
{"width":363,"height":295,"data":{"name":"lS"},"layer":[
 {"data":{"name":"pS"},"mark":{"type":"line","color":"#111","strokeWidth":1.3},"encoding":{"x":{"field":"x","type":"quantitative","scale":{"domain":[-180,180],"reverse":true,"nice":false},"axis":{"orient":"bottom","values":[-180,-160,-140,-120,-100,-80,-60,-40,-20,0,20,40,60,80,100,120,140,160,180],"labels":false,"title":null}},"y":{"field":"y","type":"quantitative","scale":{"domain":[-120,120],"nice":false},"axis":{"orient":"left","values":[-120,-100,-80,-60,-40,-20,0,20,40,60,80,100,120],"labels":false,"title":null}},"detail":{"field":"c"},"order":{"value":null}}},
 {"mark":{"type":"square","color":"white","opacity":1,"size":50},"encoding":{"x":{"field":"x","type":"quantitative","scale":{"domain":[-180,180],"reverse":true,"nice":false},"axis":{"orient":"top","values":[-180,-120,-60,0,60,120,180],"labels":false,"title":null}},"y":{"field":"y","type":"quantitative","scale":{"domain":[-120,120],"nice":false},"axis":{"orient":"right","values":[-120,-100,-80,-60,-40,-20,0,20,40,60,80,100,120],"labels":false,"title":null}}}},
 {"mark":{"type":"text","angle":-90,"fontSize":7.5,"font":"Liberation Sans","color":"#111"},"encoding":{"x":{"field":"x","type":"quantitative","scale":{"domain":[-180,180],"reverse":true,"nice":false},"axis":null},"y":{"field":"y","type":"quantitative","scale":{"domain":[-120,120],"nice":false},"axis":null},"text":{"field":"t"}}},
 {"data":{"values":[{"t":"14","x":121,"y":92}]},"mark":{"type":"text","angle":-90,"fontSize":29,"fontWeight":"bold","font":"Liberation Sans","color":"#000"},"encoding":{"x":{"field":"x","type":"quantitative","scale":{"domain":[-180,180],"reverse":true,"nice":false},"axis":null},"y":{"field":"y","type":"quantitative","scale":{"domain":[-120,120],"nice":false},"axis":null},"text":{"field":"t"}}}
],"resolve":{"axis":{"x":"independent","y":"independent"}}},
{"width":363,"height":295,"data":{"name":"lS"},"layer":[
 {"data":{"name":"pS"},"mark":{"type":"line","color":"#111","strokeWidth":1.3},"encoding":{"x":{"field":"x","type":"quantitative","scale":{"domain":[-180,180],"reverse":true,"nice":false},"axis":{"orient":"bottom","values":[-180,-160,-140,-120,-100,-80,-60,-40,-20,0,20,40,60,80,100,120,140,160,180],"labelExpr":"datum.value % 60 === 0 ? datum.label : ''","title":"ψH","titleX":165}},"y":{"field":"y","type":"quantitative","scale":{"domain":[-120,120],"nice":false},"axis":{"orient":"left","values":[-120,-100,-80,-60,-40,-20,0,20,40,60,80,100,120],"labelExpr":"datum.value % 60 === 0 ? datum.label : ''","title":"φH","titleY":159}},"detail":{"field":"c"},"order":{"value":null}}},
 {"mark":{"type":"square","color":"white","opacity":1,"size":50},"encoding":{"x":{"field":"x","type":"quantitative","scale":{"domain":[-180,180],"reverse":true,"nice":false},"axis":{"orient":"top","values":[-180,-120,-60,0,60,120,180],"labels":false,"title":null}},"y":{"field":"y","type":"quantitative","scale":{"domain":[-120,120],"nice":false},"axis":{"orient":"right","values":[-120,-100,-80,-60,-40,-20,0,20,40,60,80,100,120],"labels":false,"title":null}}}},
 {"mark":{"type":"text","angle":-90,"fontSize":7.5,"font":"Liberation Sans","color":"#111"},"encoding":{"x":{"field":"x","type":"quantitative","scale":{"domain":[-180,180],"reverse":true,"nice":false},"axis":null},"y":{"field":"y","type":"quantitative","scale":{"domain":[-120,120],"nice":false},"axis":null},"text":{"field":"t"}}},
 {"data":{"values":[{"t":"9","x":121,"y":92}]},"mark":{"type":"text","angle":-90,"fontSize":29,"fontWeight":"bold","font":"Liberation Sans","color":"#000"},"encoding":{"x":{"field":"x","type":"quantitative","scale":{"domain":[-180,180],"reverse":true,"nice":false},"axis":null},"y":{"field":"y","type":"quantitative","scale":{"domain":[-120,120],"nice":false},"axis":null},"text":{"field":"t"}}}
],"resolve":{"axis":{"x":"independent","y":"independent"}}},
{"width":363,"height":295,"data":{"name":"lS"},"layer":[
 {"data":{"name":"pS"},"mark":{"type":"line","color":"#111","strokeWidth":1.3},"encoding":{"x":{"field":"x","type":"quantitative","scale":{"domain":[-180,180],"reverse":true,"nice":false},"axis":{"orient":"bottom","values":[-180,-160,-140,-120,-100,-80,-60,-40,-20,0,20,40,60,80,100,120,140,160,180],"labelExpr":"datum.value % 60 === 0 ? datum.label : ''","title":"ψH","titleX":157}},"y":{"field":"y","type":"quantitative","scale":{"domain":[-120,120],"nice":false},"axis":{"orient":"left","values":[-120,-100,-80,-60,-40,-20,0,20,40,60,80,100,120],"labels":false,"title":null}},"detail":{"field":"c"},"order":{"value":null}}},
 {"mark":{"type":"square","color":"white","opacity":1,"size":50},"encoding":{"x":{"field":"x","type":"quantitative","scale":{"domain":[-180,180],"reverse":true,"nice":false},"axis":{"orient":"top","values":[-180,-120,-60,0,60,120,180],"labels":false,"title":null}},"y":{"field":"y","type":"quantitative","scale":{"domain":[-120,120],"nice":false},"axis":{"orient":"right","values":[-120,-100,-80,-60,-40,-20,0,20,40,60,80,100,120],"labels":false,"title":null}}}},
 {"mark":{"type":"text","angle":-90,"fontSize":7.5,"font":"Liberation Sans","color":"#111"},"encoding":{"x":{"field":"x","type":"quantitative","scale":{"domain":[-180,180],"reverse":true,"nice":false},"axis":null},"y":{"field":"y","type":"quantitative","scale":{"domain":[-120,120],"nice":false},"axis":null},"text":{"field":"t"}}},
 {"data":{"values":[{"t":"13","x":121,"y":92}]},"mark":{"type":"text","angle":-90,"fontSize":29,"fontWeight":"bold","font":"Liberation Sans","color":"#000"},"encoding":{"x":{"field":"x","type":"quantitative","scale":{"domain":[-180,180],"reverse":true,"nice":false},"axis":null},"y":{"field":"y","type":"quantitative","scale":{"domain":[-120,120],"nice":false},"axis":null},"text":{"field":"t"}}}
],"resolve":{"axis":{"x":"independent","y":"independent"}}}
]
}
